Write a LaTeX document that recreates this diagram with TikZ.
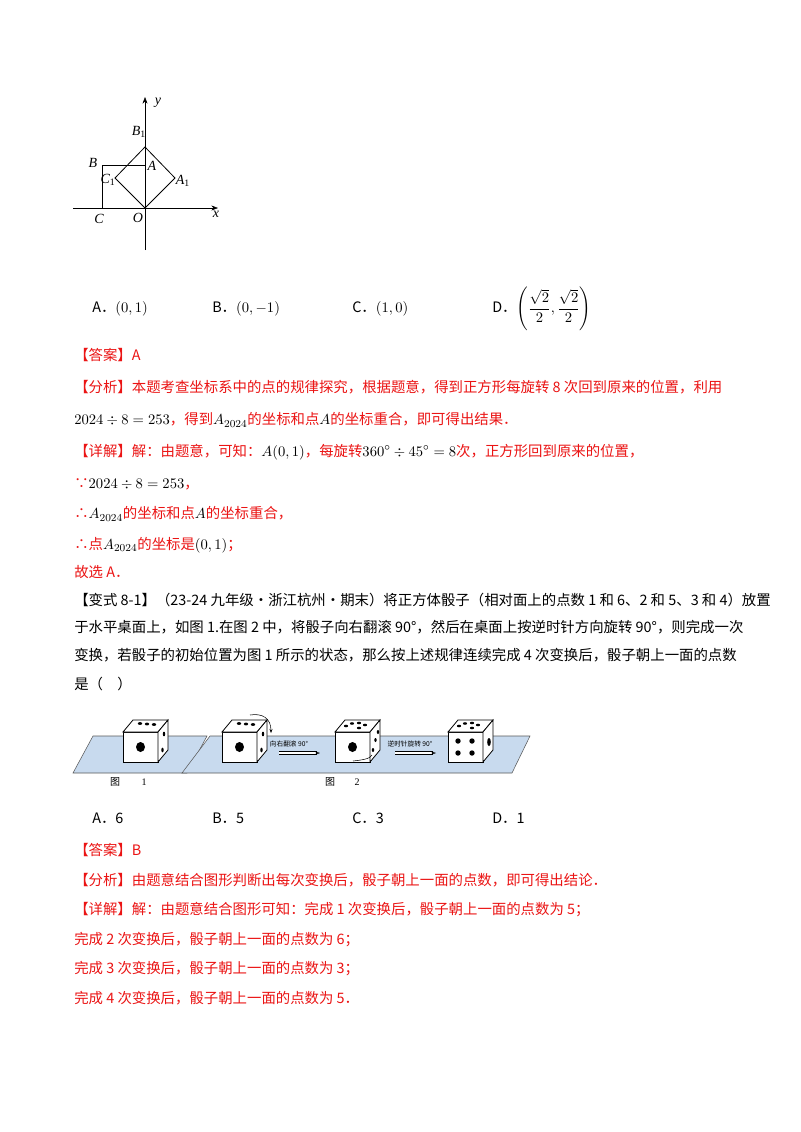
\documentclass[tikz,border=0pt]{standalone}
\usepackage{fontspec}
\usepackage{amsmath}
\usetikzlibrary{arrows.meta}
\setmainfont{Noto Sans CJK SC}
\newfontfamily\lat{Liberation Serif}
\definecolor{ansred}{RGB}{235,20,20}
\definecolor{plane}{RGB}{200,218,238}
\newcommand{\M}[1]{{\color{black}$#1$}}
\newcommand{\fs}{\fontsize{10.8}{13}\selectfont}
\tikzset{txt/.style={anchor=west,inner sep=0pt,font=\fs},
 red/.style={txt,text=ansred},
 lab/.style={inner sep=0pt,font=\fontsize{10.5}{12}\selectfont\itshape\lat},
 die/.style={draw=black,fill=white,line width=0.6pt},
 pip/.style={fill=black,draw=none}}
\begin{document}
\begin{tikzpicture}[x=0.75pt,y=-0.75pt]
\useasboundingbox (0,0) rectangle (800,1132);
\fill[white] (0,0) rectangle (800,1132);
% coordinate figure
\coordinate (O) at (145,208);
\coordinate (A) at (145,165);
\coordinate (B) at (102,165);
\coordinate (C) at (102,208);
\coordinate (A1) at (175,178);
\coordinate (B1) at (145,147);
\coordinate (C1) at (115,178);
\draw[-{Stealth[length=5pt]},thin] (73,208) -- (218,208);
\draw[-{Stealth[length=5pt]},thin] (145,250) -- (145,97);
\draw[line width=0.6pt] (O) -- (A) -- (B) -- (C);
\draw[line width=0.6pt] (O) -- (A1) -- (B1) -- (C1) -- cycle;
\node[lab] at (158,103) {y};
\node[lab] at (216,214) {x};
\node[lab] at (138,218) {O};
\node[lab] at (99,219) {C};
\node[lab] at (93,163) {B};
\node[lab] at (139,132) {B\textsubscript{\upshape 1}};
\node[lab] at (152,166) {A};
\node[lab] at (108,180) {C\textsubscript{\upshape 1}};
\node[lab] at (183,181) {A\textsubscript{\upshape 1}};
% options
\node[txt] at (92,309) {A．\M{(0,1)}};
\node[txt] at (212,309) {B．\M{(0,-1)}};
\node[txt] at (352,309) {C．\M{(1,0)}};
\node[txt] at (492,309) {D．\M{\left(\dfrac{\sqrt{2}}{2},\dfrac{\sqrt{2}}{2}\right)}};
% solution 1
\node[red] at (74,355) {【答案】A};
\node[red] at (74,387) {【分析】本题考查坐标系中的点的规律探究，根据题意，得到正方形每旋转 8 次回到原来的位置，利用};
\node[red] at (74,420) {\M{2024\div8=253}，得到\M{A_{2024}}的坐标和点\M{A}的坐标重合，即可得出结果．};
\node[red] at (74,452) {【详解】解：由题意，可知：\M{A(0,1)}，每旋转\M{360^\circ\div45^\circ=8}次，正方形回到原来的位置，};
\node[red] at (74,484) {∵\M{2024\div8=253}，};
\node[red] at (74,514) {∴\M{A_{2024}}的坐标和点\M{A}的坐标重合，};
\node[red] at (74,545) {∴点\M{A_{2024}}的坐标是\M{(0,1)}；};
\node[red] at (74,572) {故选 A．};
% problem
\node[txt] at (74,600) {【变式 8-1】（23-24 九年级·浙江杭州·期末）将正方体骰子（相对面上的点数 1 和 6、2 和 5、3 和 4）放置};
\node[txt] at (74,627) {于水平桌面上，如图 1.在图 2 中，将骰子向右翻滚 90°，然后在桌面上按逆时针方向旋转 90°，则完成一次};
\node[txt] at (74,655) {变换，若骰子的初始位置为图 1 所示的状态，那么按上述规律连续完成 4 次变换后，骰子朝上一面的点数};
\node[txt] at (74,684) {是（\quad）};
% dice figure
\draw[fill=plane,draw=gray!70!black,line width=0.4pt] (73,773) -- (93,736) -- (207,736) -- (187,773) -- cycle;
\draw[fill=plane,draw=gray!70!black,line width=0.4pt] (182,773) -- (210,736) -- (530,736) -- (512,773) -- cycle;
\foreach \x/\n in {123/1,222/2,335/3,448/4}{
 \draw[die] (\x,732) rectangle ++(35,30);
 \draw[die] (\x,732) -- ++(10,-12) -- ++(35,0) -- ++(-10,12) -- cycle;
 \draw[die] (\x+35,732) -- ++(10,-12) -- ++(0,30) -- ++(-10,12) -- cycle;
}
% die 1 & 2 pips
\foreach \x in {123,222}{
 \fill[pip] (\x+17.5,747) ellipse (4.5 and 5);
 \foreach \t in {0,1,2} \fill[pip] (\x+17+\t*7,723.5+\t*0.5) ellipse (2.2 and 1.4);
 \fill[pip] (\x+41,734) ellipse (1.2 and 2.4);
 \fill[pip] (\x+39.5,750) ellipse (1.2 and 2.4);
}
% die 3
\fill[pip] (352.5,747) ellipse (4.5 and 5);
\foreach \p in {(346,726),(352,723.5),(359,723),(365,725),(359,728)} \fill[pip] \p ellipse (2.1 and 1.3);
\foreach \p in {(378,732),(375.5,740),(373,750)} \fill[pip] \p ellipse (1.2 and 2);
% die 4
\foreach \p in {(458,741),(472,741),(458,753),(472,753)} \fill[pip] \p circle (2.7);
\foreach \p in {(459,726),(465,723.5),(472,723),(478,725),(472,728)} \fill[pip] \p ellipse (2.1 and 1.3);
\fill[pip] (489,742) ellipse (1.8 and 4);
% curved arrows
\draw[-{Stealth[length=3pt]},line width=0.4pt] (250,715) .. controls (262,713) and (271,718) .. (271,733);
\draw[line width=0.4pt] (353,761) .. controls (362,760) and (370,759) .. (372,755);
% transition labels and arrows
\node[inner sep=0pt,font=\fontsize{5}{6}\selectfont] at (289,744) {向右翻滚 90°};
\node[inner sep=0pt,font=\fontsize{5}{6}\selectfont] at (410,744) {逆时针旋转 90°};
\draw[double,double distance=1.6pt,line width=0.4pt,-{Stealth[length=4pt,open]}] (279,753) -- (320,753);
\draw[double,double distance=1.6pt,line width=0.4pt,-{Stealth[length=4pt,open]}] (395,753) -- (436,753);
\node[inner sep=0pt,font=\fontsize{7.5}{9}\selectfont] at (115,782) {图};
\node[inner sep=0pt,font=\fontsize{7.5}{9}\selectfont\lat] at (144,782) {1};
\node[inner sep=0pt,font=\fontsize{7.5}{9}\selectfont] at (330,782) {图};
\node[inner sep=0pt,font=\fontsize{7.5}{9}\selectfont\lat] at (357,782) {2};
% options 2
\node[txt] at (92,818) {A．6};
\node[txt] at (212,818) {B．5};
\node[txt] at (352,818) {C．3};
\node[txt] at (492,818) {D．1};
% solution 2
\node[red] at (74,850) {【答案】B};
\node[red] at (74,880) {【分析】由题意结合图形判断出每次变换后，骰子朝上一面的点数，即可得出结论．};
\node[red] at (74,910) {【详解】解：由题意结合图形可知：完成 1 次变换后，骰子朝上一面的点数为 5；};
\node[red] at (74,940) {完成 2 次变换后，骰子朝上一面的点数为 6；};
\node[red] at (74,969) {完成 3 次变换后，骰子朝上一面的点数为 3；};
\node[red] at (74,998) {完成 4 次变换后，骰子朝上一面的点数为 5．};
\end{tikzpicture}
\end{document}
